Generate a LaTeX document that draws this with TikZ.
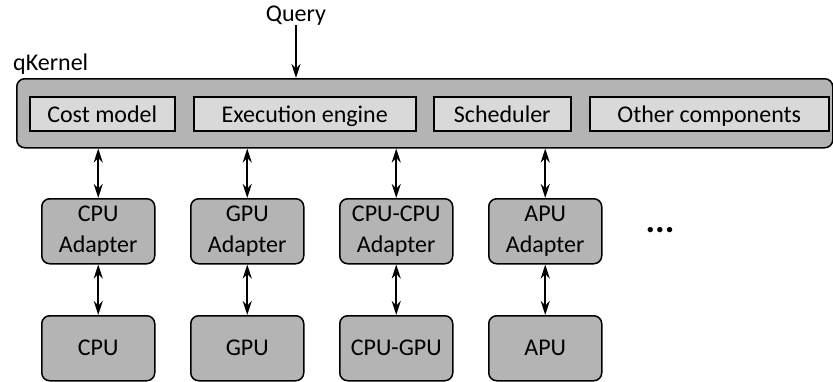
\documentclass[tikz,border=0pt]{standalone}
\usepackage{fontspec}
\setmainfont{Carlito}
\usetikzlibrary{arrows.meta,calc}
\definecolor{outergray}{RGB}{180,180,180}
\definecolor{innergray}{RGB}{217,217,217}
\begin{document}
\begin{tikzpicture}[x=1pt,y=-1pt,
  lbl/.style={font=\fontsize{24}{29}\selectfont, inner sep=0pt},
  kernelbox/.style={draw, line width=1.5pt, fill=outergray, rounded corners=8pt, inner sep=0pt},
  compbox/.style={draw, line width=1.5pt, fill=innergray, inner sep=0pt, minimum height=34pt, text height=18pt, text depth=0pt, font=\fontsize{24}{29}\selectfont},
  devbox/.style={draw, line width=1.5pt, fill=outergray, rounded corners=8pt, inner sep=0pt, minimum width=113pt, minimum height=65pt, align=center, font=\fontsize{24}{31}\selectfont},
  biarrow/.style={line width=2pt, {Stealth[length=14pt,width=9pt]}-{Stealth[length=14pt,width=9pt]}},
  onearrow/.style={line width=2pt, -{Stealth[length=14pt,width=9pt]}}
]
\useasboundingbox (0,0) rectangle (833,381);
% labels
\node[lbl, anchor=base] (query) at (296,21) {Query};
\node[lbl, anchor=base west] (klabel) at (13,70) {qKernel};
% kernel box
\node[kernelbox, minimum width=816pt, minimum height=69pt, anchor=north west] (kernel) at (16,78) {};
% components
\node[compbox, minimum width=145pt, anchor=north west] (cost) at (29,96) {Cost model};
\node[compbox, minimum width=222pt, anchor=north west] (exec) at (193,96) {Execution engine};
\node[compbox, minimum width=137pt, anchor=north west] (sched) at (433,96) {Scheduler};
\node[compbox, minimum width=239pt, anchor=north west] (other) at (589,96) {Other components};
% adapters
\node[devbox, anchor=north west] (a1) at (41,198) {CPU\\Adapter};
\node[devbox, anchor=north west] (a2) at (190,198) {GPU\\Adapter};
\node[devbox, anchor=north west] (a3) at (339,198) {CPU-CPU\\Adapter};
\node[devbox, anchor=north west] (a4) at (488,198) {APU\\Adapter};
% devices
\node[devbox, anchor=north west] (d1) at (41,315) {CPU};
\node[devbox, anchor=north west] (d2) at (190,315) {GPU};
\node[devbox, anchor=north west] (d3) at (339,315) {CPU-GPU};
\node[devbox, anchor=north west] (d4) at (488,315) {APU};
% ellipsis
\node[inner sep=0pt, anchor=base, font=\fontsize{36}{40}\selectfont\bfseries] (dots) at (660,232) {...};
% arrows
\coordinate (qstart) at (296,25);
\draw[onearrow] (qstart) -- (qstart |- kernel.north);
\foreach \i in {1,2,3,4}{
  \draw[biarrow] (a\i.north |- kernel.south) -- (a\i.north);
  \draw[biarrow] (a\i.south) -- (d\i.north);
}
\end{tikzpicture}
\end{document}
